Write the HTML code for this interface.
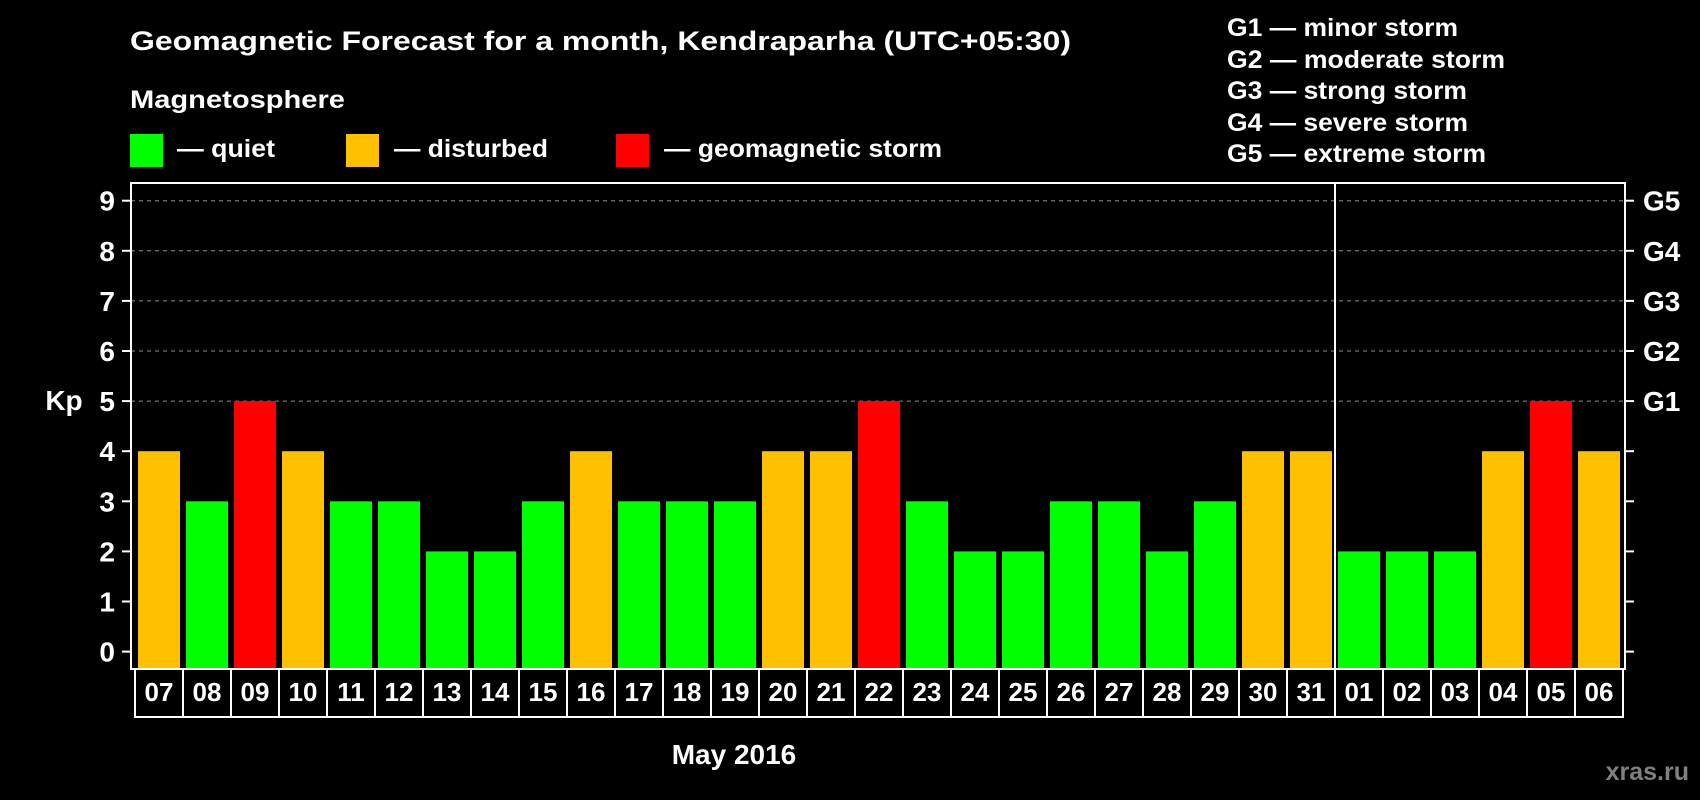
<!DOCTYPE html>
<html><head><meta charset="utf-8"><style>
html,body{margin:0;padding:0;background:#000;}
svg{display:block;font-family:"Liberation Sans",Arial,sans-serif;font-weight:bold;}
</style></head><body>
<svg id="chart" width="1700" height="800" viewBox="0 0 1700 800">
<rect x="0" y="0" width="1700" height="800" fill="#000"/>
<text x="130" y="50" font-size="27" fill="#fff" textLength="941" lengthAdjust="spacingAndGlyphs">Geomagnetic Forecast for a month, Kendraparha (UTC+05:30)</text>
<text x="130" y="108" font-size="25" fill="#fff" textLength="215" lengthAdjust="spacingAndGlyphs">Magnetosphere</text>
<g>
<rect x="130" y="134" width="33" height="33" fill="#00ff00"/>
<text x="177" y="157" font-size="25" fill="#fff" textLength="98" lengthAdjust="spacingAndGlyphs">— quiet</text>
</g>
<g>
<rect x="346" y="134" width="33" height="33" fill="#ffc000"/>
<text x="394" y="157" font-size="25" fill="#fff" textLength="154" lengthAdjust="spacingAndGlyphs">— disturbed</text>
</g>
<g>
<rect x="616" y="134" width="33" height="33" fill="#ff0000"/>
<text x="664" y="157" font-size="25" fill="#fff" textLength="278" lengthAdjust="spacingAndGlyphs">— geomagnetic storm</text>
</g>
<g font-size="25" fill="#fff">
<text x="1227" y="36" textLength="231" lengthAdjust="spacingAndGlyphs">G1 — minor storm</text>
<text x="1227" y="68" textLength="278" lengthAdjust="spacingAndGlyphs">G2 — moderate storm</text>
<text x="1227" y="99" textLength="240" lengthAdjust="spacingAndGlyphs">G3 — strong storm</text>
<text x="1227" y="131" textLength="241" lengthAdjust="spacingAndGlyphs">G4 — severe storm</text>
<text x="1227" y="162" textLength="259" lengthAdjust="spacingAndGlyphs">G5 — extreme storm</text>
</g>
<g id="grid"></g>
<g id="bars"></g>
<g id="axes"></g>
<text x="64" y="410" font-size="28" fill="#fff" text-anchor="middle">Kp</text>
<text x="734" y="764" font-size="28" fill="#fff" text-anchor="middle">May 2016</text>
<text x="1689" y="780" font-size="25" fill="#808080" text-anchor="end">xras.ru</text>
</svg>
<script>
const days = ["07","08","09","10","11","12","13","14","15","16","17","18","19","20","21","22","23","24","25","26","27","28","29","30","31","01","02","03","04","05","06"];
const kpValues = [4,3,5,4,3,3,2,2,3,4,3,3,3,4,4,5,3,2,2,3,3,2,3,4,4,2,2,2,4,5,4];
const yTicks = [0,1,2,3,4,5,6,7,8,9];
const gLabels = ["G1","G2","G3","G4","G5"];
const gLevels = [5,6,7,8,9];
const monthBreakIndex = 25;

const NS = "http://www.w3.org/2000/svg";
const plotL = 131, plotR = 1625, plotT = 183, plotB = 669;
const y0 = 651.6, unit = 50.1;
const firstX = 138, pitch = 48, barW = 42;
function yScale(v){ return y0 - v*unit; }
function xScale(i){ return firstX + i*pitch; }
function mk(tag, attrs, parent){
  const e = document.createElementNS(NS, tag);
  for (const k in attrs) e.setAttribute(k, attrs[k]);
  parent.appendChild(e);
  return e;
}
function colorFor(v){ return v >= 5 ? "#ff0000" : (v >= 4 ? "#ffc000" : "#00ff00"); }

const grid = document.getElementById("grid");
const bars = document.getElementById("bars");
const axes = document.getElementById("axes");

gLevels.forEach(function(v, i){
  const l = mk("line", {x1: plotL, x2: plotR, y1: yScale(v), y2: yScale(v), stroke: "#8c8c8c", "stroke-width": 1, "stroke-dasharray": "4 4"}, grid);
  
  
});

kpValues.forEach(function(v, i){
  const r = mk("rect", {x: xScale(i), y: yScale(v), width: barW, height: plotB - 1 - yScale(v), fill: colorFor(v)}, bars);
  
  
});

const frame = mk("rect", {x: plotL, y: plotT, width: plotR - plotL, height: plotB - plotT, fill: "none", stroke: "#fff", "stroke-width": 2}, axes);



const sepX = xScale(monthBreakIndex) - 3;
const sep = mk("line", {x1: sepX, x2: sepX, y1: plotT, y2: plotB, stroke: "#fff", "stroke-width": 2}, axes);



yTicks.forEach(function(v){
  const t = mk("line", {x1: plotL - 9, x2: plotL, y1: yScale(v), y2: yScale(v), stroke: "#fff", "stroke-width": 2}, axes);
  
  
  const t2 = mk("line", {x1: plotR, x2: plotR + 9, y1: yScale(v), y2: yScale(v), stroke: "#fff", "stroke-width": 2}, axes);
  
  
  const tx = mk("text", {x: 115, y: yScale(v) + 10, "font-size": 28, fill: "#fff", "text-anchor": "end"}, axes);
  tx.textContent = String(v);
  
  
});

gLabels.forEach(function(g, i){
  const tx = mk("text", {x: 1643, y: yScale(gLevels[i]) + 10, "font-size": 28, fill: "#fff"}, axes);
  tx.textContent = g;
  
  
});

const cellL = 135, cellT = 669, cellH = 48;
days.forEach(function(d, i){
  const x = cellL + i*pitch;
  const c = mk("rect", {x: x, y: cellT, width: pitch, height: cellH, fill: "none", stroke: "#fff", "stroke-width": 2}, axes);
  
  
  const tx = mk("text", {x: x + pitch/2, y: cellT + 32, "font-size": 26, fill: "#fff", "text-anchor": "middle"}, axes);
  tx.textContent = d;
  
  
});
</script>
</body></html>
